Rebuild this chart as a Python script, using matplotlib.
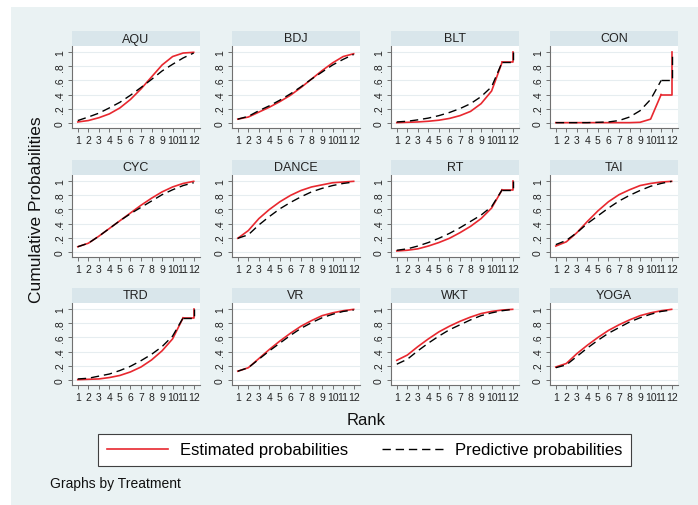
import matplotlib
matplotlib.use("Agg")
from matplotlib import pyplot as plt
from matplotlib.patches import Rectangle
from matplotlib.lines import Line2D

plt.rcParams['font.family'] = ['Liberation Sans', 'DejaVu Sans']

# Data
ranks = list(range(1, 13))
treatments = ['AQU', 'BDJ', 'BLT', 'CON',
              'CYC', 'DANCE', 'RT', 'TAI',
              'TRD', 'VR', 'WKT', 'YOGA']
# panels whose curves end with a flat part and a jump to 1 at rank 12
jump_end = ['BLT', 'CON', 'RT', 'TRD']

estimated = [
    [0.01, 0.03, 0.07, 0.125, 0.21, 0.33, 0.48, 0.65, 0.82, 0.94, 0.99, 1.0],   # AQU
    [0.05, 0.08, 0.15, 0.22, 0.30, 0.39, 0.50, 0.62, 0.74, 0.85, 0.94, 0.98],   # BDJ
    [0.0, 0.005, 0.01, 0.02, 0.035, 0.06, 0.10, 0.16, 0.27, 0.45, 0.86, 1.0],   # BLT
    [0.0, 0.0, 0.0, 0.0, 0.0, 0.0, 0.0, 0.0, 0.005, 0.05, 0.40, 1.0],           # CON
    [0.07, 0.12, 0.22, 0.33, 0.44, 0.55, 0.66, 0.76, 0.85, 0.92, 0.97, 1.0],    # CYC
    [0.19, 0.30, 0.47, 0.60, 0.71, 0.80, 0.87, 0.92, 0.95, 0.98, 0.99, 1.0],    # DANCE
    [0.01, 0.02, 0.04, 0.08, 0.13, 0.19, 0.27, 0.36, 0.47, 0.62, 0.88, 1.0],    # RT
    [0.08, 0.14, 0.27, 0.43, 0.58, 0.71, 0.81, 0.88, 0.94, 0.97, 0.99, 1.0],    # TAI
    [0.0, 0.005, 0.01, 0.03, 0.06, 0.11, 0.18, 0.28, 0.41, 0.58, 0.88, 1.0],    # TRD
    [0.12, 0.17, 0.30, 0.43, 0.55, 0.66, 0.76, 0.84, 0.91, 0.95, 0.98, 1.0],    # VR
    [0.275, 0.35, 0.47, 0.58, 0.68, 0.76, 0.83, 0.89, 0.94, 0.97, 0.99, 1.0],   # WKT
    [0.18, 0.23, 0.37, 0.49, 0.60, 0.70, 0.78, 0.85, 0.91, 0.95, 0.98, 1.0],    # YOGA
]
predictive = [
    [0.03, 0.08, 0.135, 0.21, 0.29, 0.39, 0.50, 0.615, 0.735, 0.83, 0.92, 0.99],  # AQU
    [0.05, 0.09, 0.17, 0.24, 0.32, 0.41, 0.51, 0.62, 0.72, 0.82, 0.90, 0.97],     # BDJ
    [0.01, 0.02, 0.04, 0.065, 0.10, 0.145, 0.20, 0.27, 0.37, 0.51, 0.86, 1.0],    # BLT
    [0.0, 0.0, 0.0, 0.0, 0.005, 0.01, 0.03, 0.08, 0.17, 0.33, 0.60, 1.0],         # CON
    [0.07, 0.12, 0.22, 0.33, 0.44, 0.54, 0.63, 0.72, 0.81, 0.88, 0.94, 0.98],     # CYC
    [0.19, 0.24, 0.38, 0.50, 0.61, 0.70, 0.78, 0.85, 0.90, 0.94, 0.97, 0.99],     # DANCE
    [0.02, 0.04, 0.08, 0.13, 0.19, 0.26, 0.34, 0.43, 0.52, 0.64, 0.88, 1.0],      # RT
    [0.10, 0.16, 0.27, 0.40, 0.51, 0.62, 0.72, 0.80, 0.87, 0.93, 0.97, 1.0],      # TAI
    [0.01, 0.02, 0.05, 0.08, 0.13, 0.19, 0.27, 0.36, 0.47, 0.62, 0.88, 1.0],      # TRD
    [0.12, 0.17, 0.29, 0.41, 0.52, 0.63, 0.73, 0.81, 0.88, 0.93, 0.97, 0.99],     # VR
    [0.22, 0.29, 0.41, 0.52, 0.62, 0.71, 0.78, 0.85, 0.91, 0.95, 0.98, 1.0],      # WKT
    [0.17, 0.21, 0.33, 0.45, 0.56, 0.66, 0.74, 0.82, 0.88, 0.93, 0.97, 0.99],     # YOGA
]
y_ticks = [0, 0.2, 0.4, 0.6, 0.8, 1.0]
y_ticklabels = ['0', '.2', '.4', '.6', '.8', '1']

W, H = 698, 506
RED = '#E8282F'
BG = '#EAF2F3'
STRIP = '#D9E6EB'
DASH = (0, (6, 3.5))

fig = plt.figure(figsize=(W / 100, H / 100), dpi=100)
fig.patch.set_facecolor('white')
# light graph region (white margin on the top and left)
fig.patches.append(Rectangle((11 / W, 0), 1 - 11 / W, 1 - 8 / H,
                             transform=fig.transFigure, facecolor=BG,
                             edgecolor='none', zorder=-1))

col_left = [72, 232, 391, 550]
row_top = [47, 176, 304]
pw, ph, sh = 128, 82, 15


def draw_series(ax, vals, name, **kw):
    if name in jump_end:
        # flat part then a vertical jump at the last rank
        ax.plot(ranks[:11], vals[:11], **kw)
        ax.plot(ranks[10:], vals[10:], drawstyle='steps-post', **kw)
    else:
        ax.plot(ranks, vals, **kw)


for i, name in enumerate(treatments):
    r, c = divmod(i, 4)
    x0 = col_left[c]
    top = row_top[r]
    ax = fig.add_axes([x0 / W, 1 - (top + ph) / H, pw / W, ph / H])
    ax.set_facecolor('white')
    for yv in y_ticks:
        ax.axhline(yv, color='#E6EDF0', lw=0.8, zorder=0)
    draw_series(ax, predictive[i], name, color='black', lw=1.0, ls=DASH, zorder=3)
    draw_series(ax, estimated[i], name, color=RED, lw=1.2, zorder=2)
    ax.set_xlim(0.45, 12.6)
    ax.set_ylim(-0.076, 1.09)
    ax.set_xticks(ranks)
    ax.set_xticklabels([str(k) for k in ranks], fontsize=7.5)
    ax.set_yticks(y_ticks)
    ax.set_yticklabels(y_ticklabels, fontsize=7.5, rotation=90, va='center')
    ax.tick_params(axis='both', length=3, width=0.7, color='#707070', pad=2,
                   labelcolor='#222222')
    for s in ['top', 'right']:
        ax.spines[s].set_visible(False)
    for s in ['left', 'bottom']:
        ax.spines[s].set_color('#707070')
        ax.spines[s].set_linewidth(0.8)

    # strip title
    sax = fig.add_axes([x0 / W, 1 - top / H, pw / W, sh / H])
    sax.set_facecolor(STRIP)
    sax.set_xticks([])
    sax.set_yticks([])
    for s in sax.spines.values():
        s.set_visible(False)
    sax.text(0.5, 0.5, name, ha='center', va='center', fontsize=9,
             color='#222222', transform=sax.transAxes)

fig.text(37 / W, 1 - 210 / H, 'Cumulative Probabilities', rotation=90,
         ha='center', va='center', fontsize=12.5, color='#111111')
fig.text(366 / W, 1 - 421 / H, 'Rank', ha='center', va='center',
         fontsize=12, color='#111111')

handles = [Line2D([], [], color=RED, lw=1.2),
           Line2D([], [], color='black', lw=1.0, ls=DASH)]
leg = fig.legend(handles, ['Estimated probabilities', 'Predictive probabilities'],
                 ncol=2, loc='center', bbox_to_anchor=(364.5 / W, 1 - 451 / H),
                 fontsize=12, frameon=True, fancybox=False, framealpha=1,
                 handlelength=3.7, handletextpad=0.7, columnspacing=2.0,
                 borderpad=0.5)
leg.get_frame().set_edgecolor('#404040')
leg.get_frame().set_linewidth(0.8)

fig.text(50 / W, 1 - 484 / H, 'Graphs by Treatment', ha='left', va='center',
         fontsize=10, color='#111111')

fig.savefig('out.png', dpi=100, facecolor=fig.get_facecolor())
